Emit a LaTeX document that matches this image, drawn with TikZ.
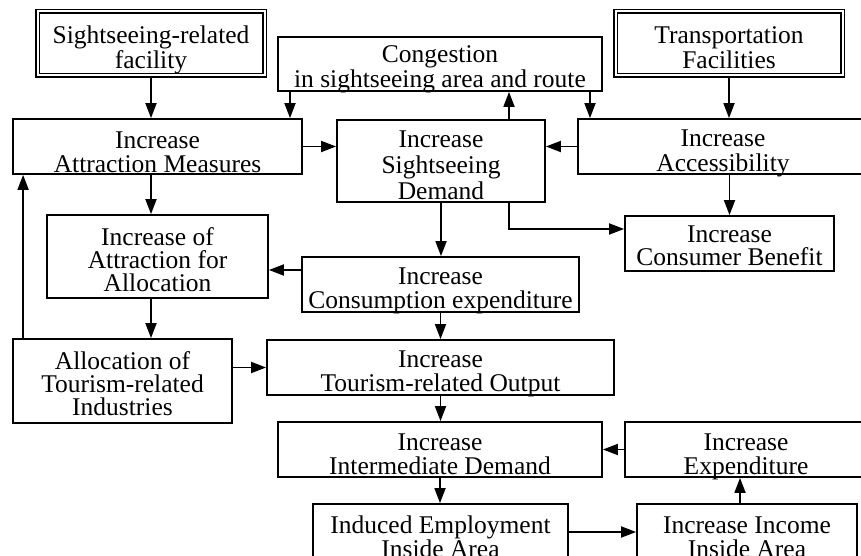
\documentclass[tikz,border=0pt]{standalone}
\usepackage{fontspec}
\setmainfont{Liberation Serif}
\usetikzlibrary{arrows.meta}

\begin{document}
\begin{tikzpicture}[x=1pt, y=-1pt, >={Triangle[length=15pt, width=11pt]},
  font=\fontsize{25.5pt}{24.5pt}\selectfont,
  box/.style={draw, line width=1.8pt, inner sep=0pt, align=center, anchor=base},
  src/.style={box, double, double distance=2pt, line width=1.6pt},
  vspan/.style 2 args={text height=#1, text depth=#2},
  link/.style={->, line width=1.8pt}]
\useasboundingbox (0,0) rectangle (861,556);
\clip (0,0) rectangle (861,556);
\node[src, minimum width=227pt, vspan={57pt}{7pt}] (facility) at (151,68.5) {Sightseeing-related\\facility};
\node[box, minimum width=324pt, vspan={50.5pt}{3.5pt}] (cong) at (440,87.5) {Congestion\\in sightseeing area and route};
\node[src, minimum width=227pt, vspan={57pt}{7pt}] (transport) at (729,68.5) {Transportation\\Facilities};
\node[box, minimum width=289pt, vspan={53.5pt}{1.5pt}] (attract) at (157.5,172.5) {Increase\\Attraction Measures};
\node[box, minimum width=208pt, vspan={80pt}{2pt}, font=\fontsize{25.5pt}{26pt}\selectfont] (demand) at (441,200) {Increase\\Sightseeing\\Demand};
\node[box, minimum width=290pt, vspan={52.5pt}{2.5pt}] (access) at (723,171.5) {Increase\\Accessibility};
\node[box, minimum width=221pt, vspan={76.5pt}{6.5pt}, font=\fontsize{25.5pt}{23pt}\selectfont] (attralloc) at (157.5,291.5) {Increase of\\Attraction for\\Allocation};
\node[box, minimum width=209pt, vspan={49pt}{6pt}, font=\fontsize{25.5pt}{23pt}\selectfont] (benefit) at (729.5,265) {Increase\\Consumer Benefit};
\node[box, minimum width=277pt, vspan={51.5pt}{3.5pt}] (consum) at (440.5,308.5) {Increase\\Consumption expenditure};
\node[box, minimum width=219pt, vspan={76pt}{8pt}, font=\fontsize{25.5pt}{23pt}\selectfont] (alloc) at (122.5,415) {Allocation of\\Tourism-related\\Industries};
\node[box, minimum width=347pt, vspan={51.5pt}{3.5pt}] (output) at (440.5,391.5) {Increase\\Tourism-related Output};
\node[box, minimum width=324pt, vspan={52.5pt}{2.5pt}] (interm) at (440,474.5) {Increase\\Intermediate Demand};
\node[box, minimum width=242pt, vspan={52.5pt}{2.5pt}] (expend) at (746,474.5) {Increase\\Expenditure};
\node[box, minimum width=255pt, vspan={53.5pt}{2.5pt}] (employ) at (440.5,557.5) {Induced Employment\\Inside Area};
\node[box, minimum width=220pt, vspan={53.5pt}{2.5pt}] (income) at (747,557.5) {Increase Income\\Inside Area};
\draw[link] (facility) -- (facility |- attract.north);
\draw[link] ([xshift=-150pt]cong.south) -- ([xshift=-150pt]cong.south |- attract.north);
\draw[link] ([xshift=150pt]cong.south) -- ([xshift=150pt]cong.south |- access.north);
\draw[link] ([xshift=68pt]demand.north) -- ([xshift=68pt]demand.north |- cong.south);
\draw[link] (transport) -- (transport |- access.north);
\draw[link] (attract.east) -- (attract.east -| demand.west);
\draw[link] (access.west) -- (access.west -| demand.east);
\draw[link] (demand.south) -- (demand.south |- consum.north);
\draw[link] ([xshift=68pt]demand.south) |- ([yshift=14.5pt]benefit.west);
\draw[link] (access.south -| benefit) -- (benefit.north);
\draw[link] (attract.south -| facility) -- (attralloc.north -| facility);
\draw[link] ([yshift=14.5pt]consum.west) -- ([yshift=14.5pt]consum.west -| attralloc.east);
\draw[link] (attralloc.south -| facility) -- (alloc.north -| facility);
\draw[link] ([xshift=11pt]alloc.north west) -- ([xshift=11pt]alloc.north west |- attract.south);
\draw[link] (alloc.east |- output.west) -- (output.west);
\draw[link] (consum.south) -- (consum.south |- output.north);
\draw[link] (output.south) -- (output.south |- interm.north);
\draw[link] (expend.west) -- (expend.west -| interm.east);
\draw[link] (interm.south) -- (interm.south |- employ.north);
\draw[link] (employ.east) -- (employ.east -| income.west);
\draw[link] ([xshift=-7pt]income.north) -- ([xshift=-7pt]income.north |- expend.south);
\end{tikzpicture}
\end{document}
